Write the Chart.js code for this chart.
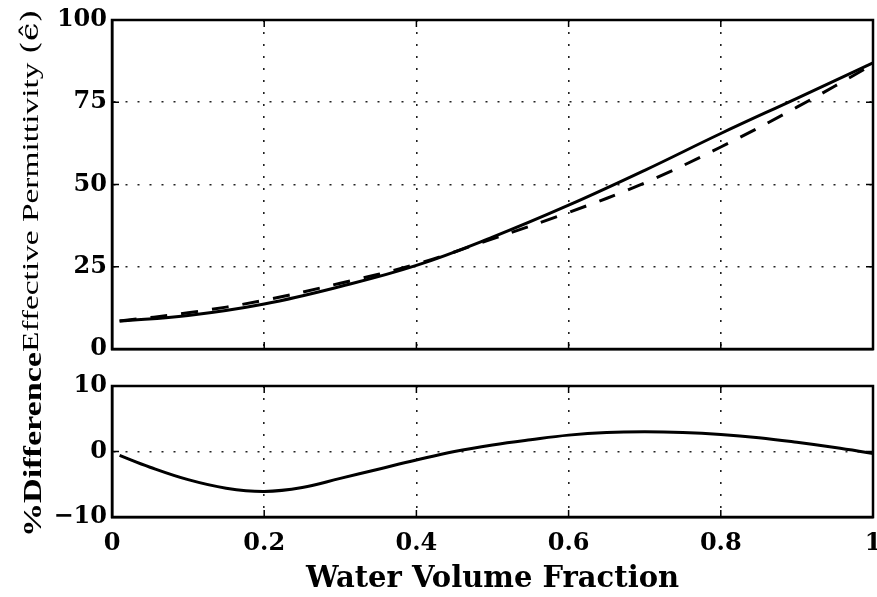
<!DOCTYPE html>
<html><head><meta charset="utf-8">
<script src="https://cdn.jsdelivr.net/npm/chart.js@4.4.1/dist/chart.umd.min.js"></script>
<style>
html,body{margin:0;padding:0;background:#fff;width:877px;height:597px;overflow:hidden;}
#top{position:absolute;left:0;top:0;}
#bot{position:absolute;left:0;top:360px;}
.ytitle{position:absolute;left:0;top:0;white-space:nowrap;font-family:"Liberation Serif","DejaVu Serif",serif;color:#000;transform-origin:0 0;line-height:1;}
.sym{font-family:"DejaVu Serif",serif;}
</style></head><body>
<canvas id="top" width="877" height="360" style="width:877px;height:360px"></canvas>
<canvas id="bot" width="877" height="237" style="width:877px;height:237px"></canvas>
<div id="t1" class="ytitle" style="font-size:24px">Effective Permittivity <span class="sym">(ϵ̂)</span></div>
<div id="t2" class="ytitle" style="font-size:26px;font-weight:bold">%Difference</div>
<script>
// ---- data ----
const fractionTop = [0.01, 0.1, 0.2, 0.3, 0.4, 0.5, 0.6, 0.7, 0.8, 0.9, 1.0];
const permSolid   = [8.5, 10.2, 13.7, 19.0, 25.4, 34.0, 43.7, 54.3, 65.5, 76.2, 87.0];
const permDashed  = [8.5, 11.0, 14.8, 20.0, 25.8, 33.5, 41.5, 50.5, 61.4, 73.5, 86.5];
const fractionBot = [0.01, 0.05, 0.1, 0.15, 0.2, 0.25, 0.3, 0.35, 0.4, 0.45, 0.5, 0.55, 0.6, 0.65, 0.7, 0.75, 0.8, 0.85, 0.9, 0.95, 1.0];
const pctDiff     = [-0.6, -2.4, -4.3, -5.6, -6.1, -5.5, -4.1, -2.7, -1.3, 0.0, 1.0, 1.8, 2.5, 2.9, 3.0, 2.9, 2.6, 2.1, 1.4, 0.6, -0.3];
const xTicks = [0, 0.2, 0.4, 0.6, 0.8, 1];
const yTicksTop = [0, 25, 50, 75, 100];
const yTicksBot = [-10, 0, 10];
const xTitle = 'Water Volume Fraction';

const tickFont = {family: '"DejaVu Serif", serif', weight: 'bold', size: 24};
const pts = (xs, ys) => xs.map((x, i) => ({x: x, y: ys[i]}));

const frame = {
  id: 'frame',
  afterDraw(c) {
    const {ctx, chartArea: a} = c;
    ctx.save();
    ctx.strokeStyle = '#000';
    ctx.lineWidth = 1.5;
    const xs = c.scales.x, ys = c.scales.y;
    ctx.beginPath();
    xs.ticks.forEach(t => {
      const p = xs.getPixelForValue(t.value);
      ctx.moveTo(p, a.bottom); ctx.lineTo(p, a.bottom - 7);
      ctx.moveTo(p, a.top); ctx.lineTo(p, a.top + 7);
    });
    ys.ticks.forEach(t => {
      const p = ys.getPixelForValue(t.value);
      ctx.moveTo(a.left, p); ctx.lineTo(a.left + 7, p);
      ctx.moveTo(a.right, p); ctx.lineTo(a.right - 7, p);
    });
    ctx.stroke();
    ctx.lineWidth = 2.5;
    ctx.strokeRect(a.left, a.top, a.right - a.left, a.bottom - a.top);
    ctx.restore();
  }
};

function gridCfg() { return {color: '#222', lineWidth: 1.6, drawTicks: false}; }
function borderCfg() { return {display: true, color: '#000', width: 2.5, dash: [2, 10]}; }
function lineDs(xs, ys, dash) {
  return {data: pts(xs, ys), borderColor: '#000', borderWidth: 3, borderDash: dash || [],
          pointRadius: 0, tension: 0.4, fill: false};
}

new Chart(document.getElementById('top'), {
  type: 'line',
  data: {datasets: [
    lineDs(fractionTop, permSolid),
    lineDs(fractionTop, permDashed, [17, 14])
  ]},
  options: {
    responsive: false, animation: false,
    plugins: {legend: {display: false}, tooltip: {enabled: false}},
    layout: {padding: {top: 20, right: 4, left: 0, bottom: 0}},
    scales: {
      x: {type: 'linear', min: 0, max: 1,
          afterBuildTicks(s) { s.ticks = xTicks.map(v => ({value: v})); },
          ticks: {display: false}, grid: gridCfg(), border: borderCfg(),
          afterFit(s) { s.height = 11; s.paddingLeft = 0; s.paddingRight = 0; }},
      y: {type: 'linear', min: 0, max: 100,
          afterBuildTicks(s) { s.ticks = yTicksTop.map(v => ({value: v})); },
          ticks: {font: tickFont, color: '#000', padding: 5},
          grid: gridCfg(), border: borderCfg(),
          afterFit(s) { s.width = 112; s.paddingTop = 0; s.paddingBottom = 0; }}
    }
  },
  plugins: [frame]
});

new Chart(document.getElementById('bot'), {
  type: 'line',
  data: {datasets: [lineDs(fractionBot, pctDiff)]},
  options: {
    responsive: false, animation: false,
    plugins: {legend: {display: false}, tooltip: {enabled: false}},
    layout: {padding: {top: 26, right: 4, left: 0, bottom: 0}},
    scales: {
      x: {type: 'linear', min: 0, max: 1,
          afterBuildTicks(s) { s.ticks = xTicks.map(v => ({value: v})); },
          ticks: {font: tickFont, color: '#000', padding: 12,
                  callback: v => (v === 0 || v === 1) ? String(v) : v.toFixed(1)},
          title: {display: true, text: xTitle, color: '#000',
                  font: {family: '"DejaVu Serif", serif', weight: 'bold', size: 29},
                  padding: {top: 0, bottom: 0}},
          grid: gridCfg(), border: borderCfg(),
          afterFit(s) { s.height = 80; s.paddingLeft = 0; s.paddingRight = 0; }},
      y: {type: 'linear', min: -10, max: 10,
          afterBuildTicks(s) { s.ticks = yTicksBot.map(v => ({value: v})); },
          ticks: {font: tickFont, color: '#000', padding: 5,
                  callback: v => v < 0 ? '\u2212' + Math.abs(v) : String(v)},
          grid: gridCfg(), border: borderCfg(),
          afterFit(s) { s.width = 112; s.paddingTop = 0; s.paddingBottom = 0; }}
    }
  },
  plugins: [frame]
});

function place(id, xLeft, yBottom, len) {
  const el = document.getElementById(id);
  const w = el.offsetWidth;
  const s = len / w;
  el.style.transform = 'translate(' + xLeft + 'px,' + yBottom + 'px) rotate(-90deg) scaleX(' + s + ')';
}
place('t1', 18, 352, 342);
place('t2', 20, 537, 185);
</script>
</body></html>
